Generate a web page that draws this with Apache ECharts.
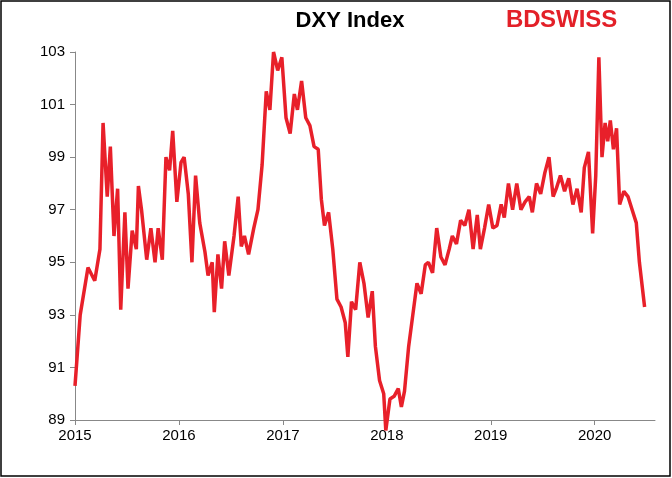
<!DOCTYPE html>
<html><head><meta charset="utf-8">
<script src="https://cdn.jsdelivr.net/npm/echarts@6/dist/echarts.min.js"></script>
<style>html,body{margin:0;padding:0;background:#fff}#c{width:672px;height:478px}</style>
</head><body><div id="c"></div>
<script>
const years = [0,.05,.125,.19,.24,.27,.31,.34,.375,.41,.44,.48,.51,.55,.59,.61,.64,.69,.73,.77,.80,.84,.875,.91,.94,.98,1.02,1.05,1.09,1.125,1.16,1.20,1.25,1.28,1.32,1.34,1.375,1.41,1.44,1.48,1.53,1.57,1.60,1.63,1.67,1.72,1.76,1.80,1.84,1.875,1.91,1.95,1.99,2.03,2.07,2.11,2.14,2.18,2.22,2.26,2.30,2.34,2.37,2.40,2.44,2.48,2.52,2.56,2.60,2.625,2.66,2.70,2.74,2.78,2.82,2.86,2.89,2.93,2.97,2.99,3.03,3.07,3.11,3.14,3.17,3.21,3.25,3.29,3.33,3.37,3.40,3.44,3.48,3.52,3.56,3.60,3.63,3.67,3.71,3.75,3.79,3.83,3.87,3.90,3.94,3.98,4.02,4.06,4.10,4.13,4.17,4.21,4.25,4.29,4.33,4.37,4.40,4.44,4.48,4.52,4.56,4.60,4.63,4.67,4.71,4.75,4.79,4.83,4.87,4.90,4.94,4.98,5.01,5.04,5.07,5.10,5.125,5.15,5.18,5.21,5.24,5.28,5.32,5.36,5.40,5.43,5.48];
const values = [90.3,93,94.8,94.3,95.5,100.3,97.5,99.4,96,97.8,93.2,96.9,94,96.2,95.5,97.9,97,95.1,96.3,95,96.3,95.1,99,98.5,100,97.3,98.8,99,97.6,95,98.3,96.5,95.4,94.5,95,93.1,95.3,94,95.8,94.5,96,97.5,95.6,96,95.3,96.3,97,98.7,101.5,100.8,103,102.3,102.8,100.5,99.9,101.4,100.8,101.9,100.5,100.2,99.4,99.3,97.4,96.4,96.9,95.5,93.6,93.3,92.7,91.4,93.5,93.2,95,94.2,92.9,93.9,91.8,90.5,90,88.6,89.8,89.9,90.2,89.5,90.1,91.8,93,94.2,93.8,94.9,95,94.6,96.3,95.2,94.9,95.5,96,95.7,96.6,96.4,97,95.5,96.8,95.5,96.3,97.2,96.3,96.4,97.2,96.7,98,97,98,97,97.3,97.5,96.9,98,97.6,98.4,99,97.5,97.8,98.3,97.7,98.2,97.2,97.8,96.9,98.6,99.2,96.1,98.3,102.8,99,100.3,99.6,100.4,99.3,100.1,97.2,97.7,97.5,97,96.5,95,93.3];
const startYear = 2015;
const yTicks = [89,91,93,95,97,99,101,103];
const data = years.map((y,i)=>[startYear+y, values[i]]);
const chart = echarts.init(document.getElementById('c'));
chart.setOption({
  animation:false,
  title:{text:'DXY Index',left:345,top:5,textAlign:'center',textStyle:{fontFamily:'Liberation Sans',fontWeight:'bold',fontSize:22,color:'#000'}},
  graphic:[
    {type:'rect',shape:{x:1,y:1,width:669,height:475},style:{fill:'none',stroke:'#000',lineWidth:1.5}},
    {type:'text',left:506,top:8,style:{text:'BD',font:'bold 24px Liberation Sans',fill:'#e32028'}},
    {type:'text',left:540,top:8,style:{text:'SWISS',font:'bold 24px Liberation Sans',fill:'#e32028'}}
  ],
  grid:{left:75,right:17,top:52,bottom:58},
  xAxis:{type:'value',min:2015,max:2020.58,interval:1,
    axisLine:{lineStyle:{color:'#888'}},axisTick:{show:true,lineStyle:{color:'#888'}},
    splitLine:{show:false},
    axisLabel:{showMaxLabel:false,color:'#000',fontSize:15,fontFamily:'Liberation Sans',margin:8,formatter:v=>String(v)}},
  yAxis:{type:'value',min:yTicks[0],max:yTicks[yTicks.length-1],interval:2,
    axisLine:{show:true,lineStyle:{color:'#888'}},axisTick:{show:true,lineStyle:{color:'#888'}},
    splitLine:{show:false},
    axisLabel:{color:'#000',fontSize:15,fontFamily:'Liberation Sans',margin:10}},
  series:[{type:'line',data:data,showSymbol:false,clip:false,lineStyle:{color:'#e8202a',width:3.5},itemStyle:{color:'#e8202a'}}]
});
</script></body></html>
